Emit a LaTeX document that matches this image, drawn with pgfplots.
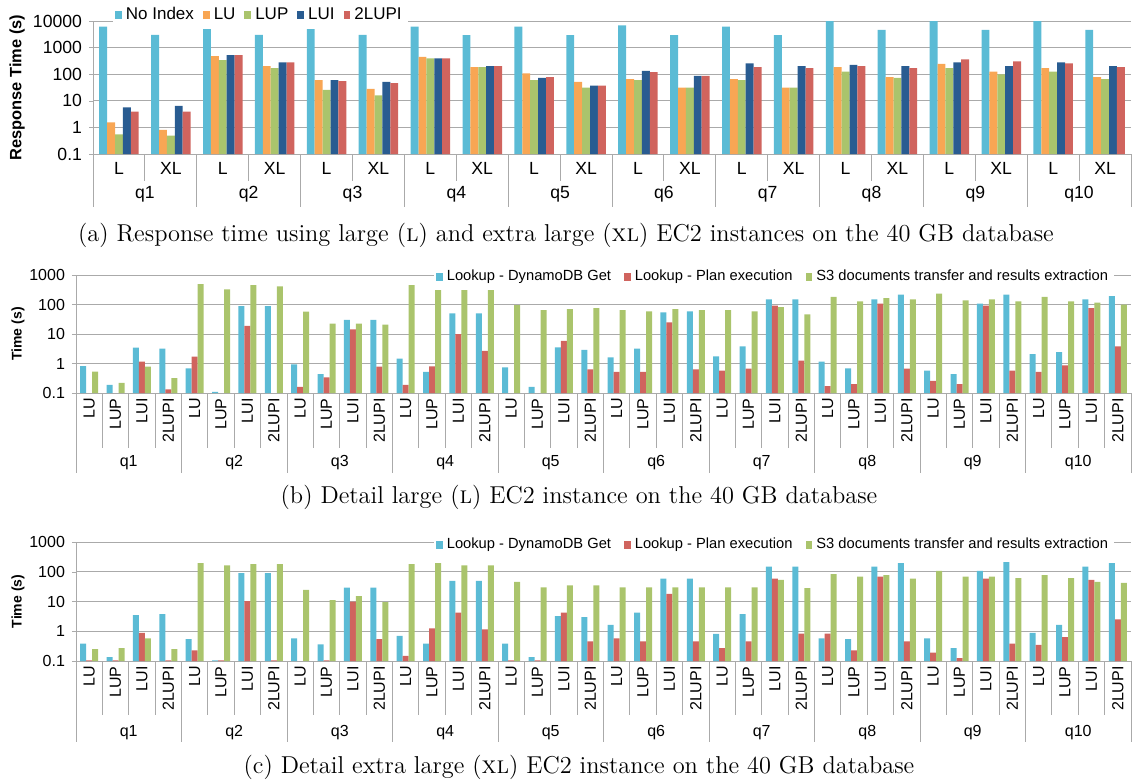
\documentclass[border=0pt]{standalone}
\usepackage{fontspec}
\setsansfont{Liberation Sans}
\usepackage{pgfplots}
\usepackage{pgfplotstable}
\pgfplotsset{compat=1.18}
\usetikzlibrary{calc}

\definecolor{cNI}{RGB}{91,187,213}
\definecolor{cLU}{RGB}{248,166,84}
\definecolor{cLUP}{RGB}{170,196,108}
\definecolor{cLUI}{RGB}{41,92,145}
\definecolor{cLUPI}{RGB}{208,100,94}
\definecolor{gridc}{RGB}{170,170,170}

\newcommand\laba{\sffamily\fontsize{8.8}{10}\selectfont}
\newcommand\lega{\sffamily\fontsize{8.5}{10}\selectfont}
\newcommand\ylaba{\sffamily\bfseries\fontsize{8.2}{10}\selectfont}
\newcommand\labb{\sffamily\fontsize{8}{9.6}\selectfont}
\newcommand\legb{\sffamily\fontsize{7.35}{8.8}\selectfont}
\newcommand\ylabb{\sffamily\bfseries\fontsize{7}{8.4}\selectfont}
\newcommand\capfont{\fontsize{12.2}{14}\selectfont}

% (a) response time, x = q1 L, q1 XL, q2 L, ...
\pgfplotstableread{
x  noidx  lu    lup   lui   lupi
0  6100   1.55  0.55  5.7   3.9
1  3000   0.80  0.49  6.4   3.9
2  6900   480   340   527   527
3  3000   203   170   280   280
4  6100   60    25.5  60    55
5  3000   28    16    51    46
6  6100   445   396   396   396
7  2950   186   186   203   203
8  6100   108   60    72    78
9  2950   51    31    37    37
10 6900   66    60    132   121
11 2950   31    31    86    86
12 6100   66    60    257   186
13 2950   31    31    203   170
14 12000  186   124   222   203
15 4600   78    72    203   170
16 12000  247   170   280   363
17 4600   124   99    203   305
18 12000  170   124   280   257
19 4600   78    66    203   186
}\tabA

% (b) detail large, x = q1 LU, LUP, LUI, 2LUPI, q2 LU, ...
\pgfplotstableread{
x  get   plan  sthree
0  0.82  nan   0.53
1  0.19  nan   0.22
2  3.44  1.15  0.78
3  3.2   0.133 0.32
4  0.69  1.7   495
5  0.11  nan   327
6  89    18.7  458
7  89    nan   413
8  0.94  0.16  57
9  0.44  0.34  22.4
10 30    14.4  22.4
11 30    0.78  20.7
12 1.45  0.19  458
13 0.52  0.80  380
14 50    10    353
15 50    2.7   353
16 0.74  nan   96
17 0.16  nan   65
18 3.5   5.8   70
19 2.9   0.63  76
20 1.6   0.52  65
21 3.2   0.52  59
22 54    25    70
23 59    0.63  65
24 1.75  0.57  65
25 3.8   0.67  59
26 150   91    82
27 150   1.25  46
28 1.15  0.17  180
29 0.69  0.20  128
30 150   107   166
31 215   0.67  150
32 0.57  0.26  233
33 0.44  0.20  138
34 107   91    150
35 215   0.57  128
36 2.1   0.52  180
37 2.45  0.87  128
38 150   76    115
39 194   3.8   99
}\tabB

% (c) detail extra large
\pgfplotstableread{
x  get   plan  sthree
0  0.385 0.105 0.25
1  0.136 0.105 0.27
2  3.5   0.88  0.58
3  3.8   0.105 0.25
4  0.54  0.23  195
5  0.105 0.105 163
6  90    10.4  180
7  90    0.105 180
8  0.58  nan   24.5
9  0.36  0.105 11.2
10 29.4  9.9   15.3
11 29.4  0.54  9.6
12 0.70  0.148 180
13 0.385 1.24  195
14 49    4.2   163
15 49    1.15  163
16 0.385 0.105 45.6
17 0.136 0.105 30
18 3.2   4.2   35
19 3.0   0.46  35
20 1.65  0.58  30
21 4.2   0.46  30
22 59    18    30
23 59    0.46  30
24 0.82  0.27  30
25 3.8   0.46  30
26 150   59    53
27 150   0.84  28
28 0.58  0.84  83
29 0.54  0.23  69
30 150   69    77
31 195   0.46  59
32 0.58  0.19  107
33 0.27  0.126 69
34 107   59    69
35 211   0.385 61
36 0.88  0.35  77
37 1.65  0.63  61
38 150   53    45.6
39 195   2.5   42
}\tabC

\pgfplotsset{
  sq/.style={draw=none, fill=#1,
    legend image code/.code={\fill[#1] (0pt,-1.8pt) rectangle (3.4pt,2.2pt);}},
}

\begin{document}
\begin{tikzpicture}
\useasboundingbox (0,0) rectangle (567pt,-391pt);

% ---------- (a)
\begin{axis}[name=pa, at={(46.5pt,-77pt)}, anchor=south west,
  scale only axis, ymode=log, log origin y=infty, ybar=0pt,
  axis x line*=bottom, axis y line*=left, axis line style={draw=gridc},
  ymajorgrids, major grid style={draw=gridc, line width=0.5pt},
  xtick=\empty, yminorticks=false,
  tick align=outside, major tick length=2pt, ytick style={draw=gridc},
  tick label style={font=\laba},
  enlarge x limits=false, enlarge y limits=false,
  legend columns=-1,
  legend style={draw=none, fill=white, font=\lega, inner sep=1pt,
    /tikz/every even column/.append style={column sep=2.5pt},
    at={(0.019,1.045)}, anchor=west},
  width=519pt, height=66.5pt, bar width=3.95pt,
  xmin=-0.5, xmax=19.5, ymin=0.1, ymax=10000,
  ytick={0.1,1,10,100,1000,10000}, yticklabels={0.1,1,10,100,1000,10000},
  ylabel={Response Time (s)},
  ylabel style={font=\ylaba, anchor=center, at={(axis description cs:-0.0732,0.5)}}]
\addplot[sq=cNI] table[x=x, y=noidx] {\tabA};
\addplot[sq=cLU] table[x=x, y=lu] {\tabA};
\addplot[sq=cLUP] table[x=x, y=lup] {\tabA};
\addplot[sq=cLUI] table[x=x, y=lui] {\tabA};
\addplot[sq=cLUPI] table[x=x, y=lupi] {\tabA};
\legend{No Index,LU,LUP,LUI,2LUPI}
\end{axis}
\foreach \i in {0,...,20}{
  \pgfmathtruncatemacro\g{mod(\i,2)==0}
  \ifnum\g=1 \def\len{26.5pt}\else\def\len{13.5pt}\fi
  \draw[gridc] ($(pa.south west)!{\i/20}!(pa.south east)$) -- ++(0,-\len);
}
\foreach \i in {0,...,9}{
  \node[font=\laba] at ($(pa.south west)!{(2*\i+0.5)/20}!(pa.south east)+(0,-7pt)$) {L};
  \node[font=\laba] at ($(pa.south west)!{(2*\i+1.5)/20}!(pa.south east)+(0,-7pt)$) {XL};
  \node[font=\laba] at ($(pa.south west)!{(2*\i+1)/20}!(pa.south east)+(0,-20pt)$) {q\number\numexpr\i+1\relax};
}
\node[font=\capfont] at (283pt,-117.5pt) {(a) Response time using large (\textsc{l}) and extra large (\textsc{xl}) EC2 instances on the 40 GB database};

% ---------- (b)
\begin{axis}[name=pb, at={(38pt,-196.5pt)}, anchor=south west,
  scale only axis, ymode=log, log origin y=infty, ybar=0pt,
  axis x line*=bottom, axis y line*=left, axis line style={draw=gridc},
  ymajorgrids, major grid style={draw=gridc, line width=0.5pt},
  xtick=\empty, yminorticks=false,
  tick align=outside, major tick length=2pt, ytick style={draw=gridc},
  tick label style={font=\labb},
  enlarge x limits=false, enlarge y limits=false,
  legend columns=-1,
  legend style={draw=none, fill=white, font=\legb, inner sep=1pt,
    /tikz/every even column/.append style={column sep=4.5pt},
    at={(0.339,0.983)}, anchor=west},
  width=527.5pt, height=59pt, bar width=3pt,
  xmin=-0.5, xmax=39.5, ymin=0.1, ymax=1000,
  ytick={0.1,1,10,100,1000}, yticklabels={0.1,1,10,100,1000},
  ylabel={Time (s)},
  ylabel style={font=\ylabb, anchor=center, at={(axis description cs:-0.055,0.5)}}]
\addplot[sq=cNI] table[x=x, y=get] {\tabB};
\addplot[sq=cLUPI] table[x=x, y=plan] {\tabB};
\addplot[sq=cLUP] table[x=x, y=sthree] {\tabB};
\legend{Lookup - DynamoDB Get,Lookup - Plan execution,S3 documents transfer and results extraction}
\end{axis}
\foreach \i in {0,...,40}{
  \pgfmathtruncatemacro\g{mod(\i,4)==0}
  \ifnum\g=1 \def\len{40pt}\else\def\len{27.5pt}\fi
  \draw[gridc] ($(pb.south west)!{\i/40}!(pb.south east)$) -- ++(0,-\len);
}
\foreach \i in {0,...,9}{
  \foreach \n [count=\k from 0] in {LU,LUP,LUI,2LUPI}{
    \node[rotate=90, anchor=east, font=\labb, inner sep=0pt] at ($(pb.south west)!{(4*\i+\k+0.5)/40}!(pb.south east)+(0,-2.5pt)$) {\n};
  }
  \node[font=\labb] at ($(pb.south west)!{(4*\i+2)/40}!(pb.south east)+(0,-35pt)$) {q\number\numexpr\i+1\relax};
}
\node[font=\capfont] at (289.5pt,-248.5pt) {(b) Detail large (\textsc{l}) EC2 instance on the 40 GB database};

% ---------- (c)
\begin{axis}[name=pc, at={(38pt,-330.5pt)}, anchor=south west,
  scale only axis, ymode=log, log origin y=infty, ybar=0pt,
  axis x line*=bottom, axis y line*=left, axis line style={draw=gridc},
  ymajorgrids, major grid style={draw=gridc, line width=0.5pt},
  xtick=\empty, yminorticks=false,
  tick align=outside, major tick length=2pt, ytick style={draw=gridc},
  tick label style={font=\labb},
  enlarge x limits=false, enlarge y limits=false,
  legend columns=-1,
  legend style={draw=none, fill=white, font=\legb, inner sep=1pt,
    /tikz/every even column/.append style={column sep=4.5pt},
    at={(0.339,0.975)}, anchor=west},
  width=527.5pt, height=59.5pt, bar width=3pt,
  xmin=-0.5, xmax=39.5, ymin=0.1, ymax=1000,
  ytick={0.1,1,10,100,1000}, yticklabels={0.1,1,10,100,1000},
  ylabel={Time (s)},
  ylabel style={font=\ylabb, anchor=center, at={(axis description cs:-0.055,0.5)}}]
\addplot[sq=cNI] table[x=x, y=get] {\tabC};
\addplot[sq=cLUPI] table[x=x, y=plan] {\tabC};
\addplot[sq=cLUP] table[x=x, y=sthree] {\tabC};
\legend{Lookup - DynamoDB Get,Lookup - Plan execution,S3 documents transfer and results extraction}
\end{axis}
\foreach \i in {0,...,40}{
  \pgfmathtruncatemacro\g{mod(\i,4)==0}
  \ifnum\g=1 \def\len{40.5pt}\else\def\len{27pt}\fi
  \draw[gridc] ($(pc.south west)!{\i/40}!(pc.south east)$) -- ++(0,-\len);
}
\foreach \i in {0,...,9}{
  \foreach \n [count=\k from 0] in {LU,LUP,LUI,2LUPI}{
    \node[rotate=90, anchor=east, font=\labb, inner sep=0pt] at ($(pc.south west)!{(4*\i+\k+0.5)/40}!(pc.south east)+(0,-2.5pt)$) {\n};
  }
  \node[font=\labb] at ($(pc.south west)!{(4*\i+2)/40}!(pc.south east)+(0,-36pt)$) {q\number\numexpr\i+1\relax};
}
\node[font=\capfont] at (289.5pt,-383.5pt) {(c) Detail extra large (\textsc{xl}) EC2 instance on the 40 GB database};
\end{tikzpicture}
\end{document}
